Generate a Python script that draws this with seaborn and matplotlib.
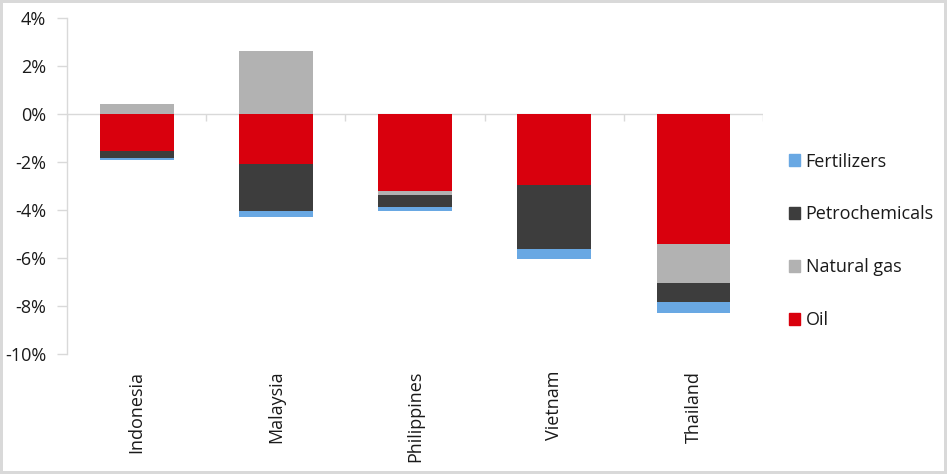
import numpy as np
import pandas as pd
import seaborn as sns
import matplotlib.pyplot as plt
from matplotlib.ticker import FuncFormatter
from matplotlib.patches import Patch

countries = ['Indonesia', 'Malaysia', 'Philippines', 'Vietnam', 'Thailand']
oil = [-1.53, -2.11, -3.21, -2.96, -5.43]
natural_gas = [0.39, 2.61, -0.17, 0.0, -1.63]
petrochemicals = [-0.33, -1.94, -0.50, -2.68, -0.79]
fertilizers = [-0.05, -0.25, -0.17, -0.42, -0.46]

series = ['Oil', 'Natural gas', 'Petrochemicals', 'Fertilizers']
colors = {'Oil': '#d9000d', 'Natural gas': '#b2b2b2',
          'Petrochemicals': '#3d3d3d', 'Fertilizers': '#69a8e3'}

df = pd.DataFrame({'country': countries, 'Oil': oil, 'Natural gas': natural_gas,
                   'Petrochemicals': petrochemicals, 'Fertilizers': fertilizers})

sns.set_theme(style="white")
plt.rcParams['font.family'] = ['Open Sans', 'DejaVu Sans']

fig = plt.figure(figsize=(9.47, 4.74), dpi=100, edgecolor='#d9d9d9', linewidth=3)
ax = fig.add_axes([0.0708, 0.2532, 0.735, 0.7095])

# stack positives and negatives separately, like Excel does
pos_base = np.zeros(len(df))
neg_base = np.zeros(len(df))
for s in series:
    vals = df[s].to_numpy()
    bottom = np.where(vals >= 0, pos_base, neg_base)
    sns.barplot(x=df['country'], y=vals, bottom=bottom, color=colors[s],
                width=0.53, saturation=1, linewidth=0, ax=ax)
    pos_base += np.clip(vals, 0, None)
    neg_base += np.clip(vals, None, 0)

grey = '#d9d9d9'
ax.set_ylim(-10, 4)
ax.set_xlim(-0.5, len(countries) - 0.5)
ax.set_yticks(np.arange(-10, 5, 2))
ax.yaxis.set_major_formatter(FuncFormatter(lambda v, p: f'{v:.0f}%'))
ax.set_xlabel('')
ax.set_ylabel('')

for side in ['top', 'right', 'bottom']:
    ax.spines[side].set_visible(False)
ax.spines['left'].set_color(grey)
ax.spines['left'].set_linewidth(1)

# zero line with category boundary ticks
ax.axhline(0, color=grey, lw=1, zorder=0.5)
ax.vlines(np.arange(-0.5, len(countries)), -0.3, 0, color=grey, lw=1, zorder=0.5)

ax.tick_params(axis='y', which='major', length=7, width=1, color=grey,
               direction='out', left=True, labelsize=13, labelcolor='#1a1a1a', pad=8)
ax.tick_params(axis='x', length=0, labelsize=13, labelcolor='#1a1a1a', pad=12)
plt.setp(ax.get_xticklabels(), rotation=90, va='top')

handles = [Patch(color=colors[s], label=s) for s in reversed(series)]
fig.legend(handles=handles, loc='center left', bbox_to_anchor=(0.8236, 0.492),
           frameon=False, fontsize=13, labelspacing=1.93, handlelength=0.62,
           handleheight=0.62, handletextpad=0.3, borderpad=0, labelcolor='#1a1a1a')

fig.savefig('out.png', dpi=100)
